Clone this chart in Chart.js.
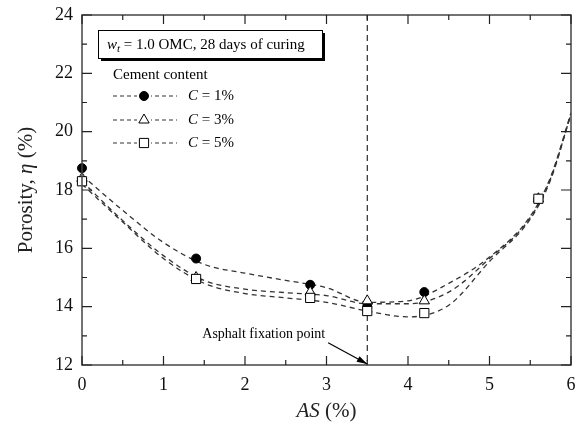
<!DOCTYPE html>
<html><head><meta charset="utf-8">
<script src="https://cdn.jsdelivr.net/npm/chart.js@4/dist/chart.umd.min.js"></script>
<style>html,body{margin:0;padding:0;background:#fff}#wrap{width:583px;height:428px;position:relative}canvas{display:block}</style>
</head><body><div id="wrap"><canvas id="c" width="583" height="428" style="width:583px;height:428px"></canvas></div>
<script>
// measured points
const asContent  = [0, 1.4, 2.8, 3.5, 4.2, 5.6];
const porosityC1 = [18.75, 15.65, 14.75, 14.0, 14.5, 17.7];
const porosityC3 = [18.4, 15.0, 14.5, 14.2, 14.2, 17.7];
const porosityC5 = [18.3, 14.95, 14.3, 13.85, 13.78, 17.7];
// fitted trend curves
const curveX  = [0, 0.5, 1, 1.5, 2, 2.5, 3, 3.5, 4, 4.5, 5, 5.5, 5.75, 6];
const curveC1 = [18.5, 17.3, 16.2, 15.45, 15.15, 14.9, 14.65, 14.15, 14.2, 14.8, 15.7, 17.1, 18.45, 20.65];
const curveC3 = [18.3, 16.95, 15.75, 14.9, 14.6, 14.48, 14.38, 14.1, 14.1, 14.5, 15.65, 17.05, 18.4, 20.6];
const curveC5 = [18.2, 16.9, 15.65, 14.8, 14.45, 14.3, 14.15, 13.85, 13.65, 14.05, 15.55, 17.0, 18.35, 20.6];
const seriesLabels = ['C = 1%', 'C = 3%', 'C = 5%'];
const xTicks = [0, 1, 2, 3, 4, 5, 6];
const yTicks = [12, 14, 16, 18, 20, 22, 24];
const fixationAS = 3.5;

const SERIF = '"Liberation Serif", "DejaVu Serif", serif';
const pts = (xs, ys) => xs.map((x, i) => ({x, y: ys[i]}));
const curveDs = (ys) => ({type: 'scatter', data: pts(curveX, ys), showLine: true, pointRadius: 0,
  borderColor: '#333', borderWidth: 1.3, borderDash: [5, 4], cubicInterpolationMode: 'monotone', fill: false, order: 5});

const markerDs = (ys, style, fill, r, ord) => ({type: 'scatter', data: pts(asContent, ys), showLine: false, clip: false,
  pointStyle: style, pointRadius: r, pointBackgroundColor: fill, pointBorderColor: '#000', pointBorderWidth: 1, order: ord});

const deco = {
  id: 'deco',
  beforeDatasetsDraw(chart) {
    const {ctx, chartArea: a, scales: {x}} = chart;
    const px = x.getPixelForValue(fixationAS);
    ctx.save();
    ctx.strokeStyle = '#000'; ctx.lineWidth = 1; ctx.setLineDash([6, 4]);
    ctx.beginPath(); ctx.moveTo(px, a.top); ctx.lineTo(px, a.bottom); ctx.stroke();
    ctx.restore();
  },
  afterDraw(chart) {
    const {ctx, chartArea: a, scales: {x, y}} = chart;
    ctx.save();
    // frame
    ctx.strokeStyle = '#444'; ctx.lineWidth = 1.5; ctx.setLineDash([]);
    ctx.strokeRect(a.left, a.top, a.right - a.left, a.bottom - a.top);
    // ticks inward on all sides
    ctx.lineWidth = 1.2; ctx.strokeStyle = '#222';
    for (let v = 0; v <= 6.001; v += 0.5) {
      const p = x.getPixelForValue(v); const L = Math.abs(v - Math.round(v)) < 1e-6 ? 9 : 5;
      ctx.beginPath(); ctx.moveTo(p, a.bottom); ctx.lineTo(p, a.bottom - L);
      ctx.moveTo(p, a.top); ctx.lineTo(p, a.top + L); ctx.stroke();
    }
    for (let v = 12; v <= 24; v += 1) {
      const p = y.getPixelForValue(v); const L = v % 2 === 0 ? 10 : 5;
      ctx.beginPath(); ctx.moveTo(a.left, p); ctx.lineTo(a.left + L, p);
      ctx.moveTo(a.right, p); ctx.lineTo(a.right - L, p); ctx.stroke();
    }
    // axis titles
    ctx.fillStyle = '#222'; ctx.textBaseline = 'middle';
    const drawRuns = (runs, x0, y0, align) => {
      let w = 0;
      runs.forEach(r => { ctx.font = r.f; w += ctx.measureText(r.t).width; });
      let cx = align === 'center' ? x0 - w / 2 : x0;
      ctx.textAlign = 'left';
      runs.forEach(r => { ctx.font = r.f; ctx.fillText(r.t, cx, y0 + (r.dy || 0)); cx += ctx.measureText(r.t).width; });
      return w;
    };
    const cx = (a.left + a.right) / 2;
    drawRuns([{t: 'AS', f: 'italic 21px ' + SERIF}, {t: ' (%)', f: '21px ' + SERIF}], cx, 411, 'center');
    ctx.save();
    ctx.translate(26, 190);
    ctx.rotate(-Math.PI / 2);
    drawRuns([{t: 'Porosity, ', f: '21px ' + SERIF}, {t: 'η', f: 'italic 21px ' + SERIF}, {t: ' (%)', f: '21px ' + SERIF}], 0, 0, 'center');
    ctx.restore();

    // info box with shadow
    const bx = a.left + 16, by = a.top + 15, bw = 224, bh = 28;
    ctx.fillStyle = '#000'; ctx.fillRect(bx + 3, by + 3, bw, bh);
    ctx.fillStyle = '#fff'; ctx.fillRect(bx, by, bw, bh);
    ctx.strokeStyle = '#000'; ctx.lineWidth = 1; ctx.strokeRect(bx + 0.5, by + 0.5, bw, bh);
    ctx.fillStyle = '#000';
    drawRuns([{t: 'w', f: 'italic 15px ' + SERIF}, {t: 't', f: 'italic 11px ' + SERIF, dy: 4},
      {t: ' = 1.0 OMC, 28 days of curing', f: '15px ' + SERIF}], bx + 9, by + bh / 2 + 1, 'left');

    // legend
    const lx = a.left + 31;
    drawRuns([{t: 'Cement content', f: '15px ' + SERIF}], lx, 75, 'left');
    const rows = [96, 120, 143];
    const styles = ['circle', 'triangle', 'rect'];
    const radii = [4.5, 6, 6.5];
    rows.forEach((ry, i) => {
      ctx.strokeStyle = '#333'; ctx.lineWidth = 1.2; ctx.setLineDash([4, 3]);
      ctx.beginPath(); ctx.moveTo(lx, ry); ctx.lineTo(lx + 64, ry); ctx.stroke();
      ctx.setLineDash([]);
      const mx = lx + 31;
      ctx.fillStyle = '#fff'; ctx.fillRect(mx - 7, ry - 7, 14, 14);
      ctx.lineWidth = 1; ctx.strokeStyle = '#000';
      ctx.fillStyle = i === 0 ? '#000' : '#fff';
      Chart.helpers.drawPoint(ctx, {pointStyle: styles[i], radius: radii[i], borderWidth: 1, rotation: 0}, mx, ry);
      ctx.fillStyle = '#000';
      const parts = seriesLabels[i].split(' ');
      drawRuns([{t: parts[0], f: 'italic 15px ' + SERIF}, {t: ' ' + parts.slice(1).join(' '), f: '15px ' + SERIF}], lx + 75, ry, 'left');
    });

    // annotation
    ctx.fillStyle = '#000';
    drawRuns([{t: 'Asphalt fixation point', f: '14px ' + SERIF}], x.getPixelForValue(2.23), y.getPixelForValue(13.06), 'center');
    const x0 = x.getPixelForValue(3.02), y0 = y.getPixelForValue(12.76);
    const x1 = x.getPixelForValue(fixationAS), y1 = a.bottom - 1;
    ctx.strokeStyle = '#000'; ctx.lineWidth = 1.2;
    ctx.beginPath(); ctx.moveTo(x0, y0); ctx.lineTo(x1, y1); ctx.stroke();
    const ang = Math.atan2(y1 - y0, x1 - x0);
    ctx.beginPath(); ctx.moveTo(x1, y1);
    ctx.lineTo(x1 - 11 * Math.cos(ang - 0.3), y1 - 11 * Math.sin(ang - 0.3));
    ctx.lineTo(x1 - 11 * Math.cos(ang + 0.3), y1 - 11 * Math.sin(ang + 0.3));
    ctx.closePath(); ctx.fill();
    ctx.restore();
  }
};

new Chart(document.getElementById('c'), {
  type: 'scatter',
  data: {datasets: [
    curveDs(curveC1), curveDs(curveC3), curveDs(curveC5),
    markerDs(porosityC1, 'circle', '#000', 4.5, 3),
    markerDs(porosityC3, 'triangle', '#fff', 6, 2),
    markerDs(porosityC5, 'rect', '#fff', 6.5, 1)
  ]},
  options: {
    responsive: false, maintainAspectRatio: false, animation: false, devicePixelRatio: 1,
    layout: {padding: {top: 15, right: 12, left: 0, bottom: 0}},
    plugins: {legend: {display: false}, tooltip: {enabled: false}},
    scales: {
      x: {type: 'linear', min: 0, max: 6,
        afterFit: s => { s.height = 63; s.paddingLeft = 0; s.paddingRight = 0; },
        afterBuildTicks: s => { s.ticks = xTicks.map(v => ({value: v})); },
        grid: {display: false, drawTicks: false}, border: {display: false},
        ticks: {padding: 9, color: '#111', font: {family: SERIF, size: 18}}},
      y: {type: 'linear', min: 12, max: 24,
        afterFit: s => { s.width = 82; s.paddingTop = 0; s.paddingBottom = 0; },
        afterBuildTicks: s => { s.ticks = yTicks.map(v => ({value: v})); },
        grid: {display: false, drawTicks: false}, border: {display: false},
        ticks: {padding: 9, color: '#111', font: {family: SERIF, size: 18}}}
    }
  },
  plugins: [deco]
});
</script></body></html>
